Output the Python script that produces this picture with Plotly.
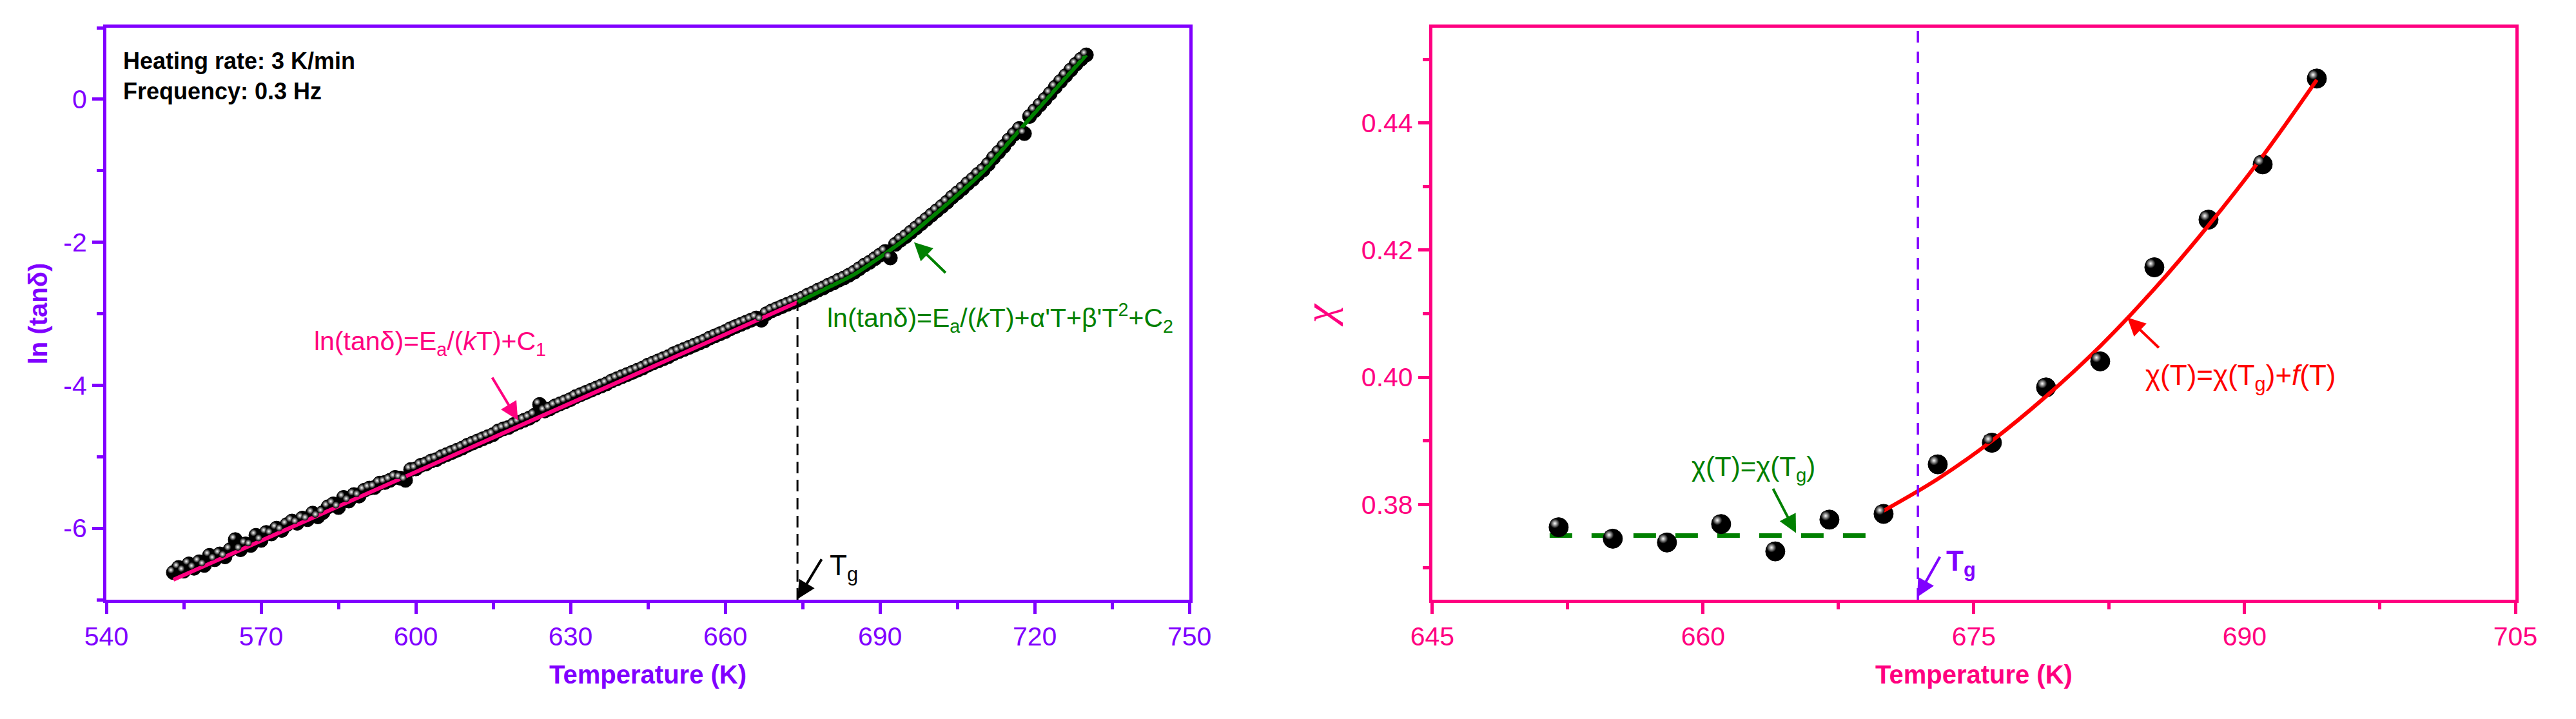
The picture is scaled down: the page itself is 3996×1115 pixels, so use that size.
import plotly.graph_objects as go

# ---------------- Left panel data ----------------
T_left = [
    553, 554, 555, 556, 557, 558, 559, 560, 561, 562,
    563, 564, 565, 566, 567, 568, 569, 570, 571, 572,
    573, 574, 575, 576, 577, 578, 579, 580, 581, 582,
    583, 584, 585, 586, 587, 588, 589, 590, 591, 592,
    593, 594, 595, 596, 597, 598, 599, 600, 601, 602,
    603, 604, 605, 606, 607, 608, 609, 610, 611, 612,
    613, 614, 615, 616, 617, 618, 619, 620, 621, 622,
    623, 624, 625, 626, 627, 628, 629, 630, 631, 632,
    633, 634, 635, 636, 637, 638, 639, 640, 641, 642,
    643, 644, 645, 646, 647, 648, 649, 650, 651, 652,
    653, 654, 655, 656, 657, 658, 659, 660, 661, 662,
    663, 664, 665, 666, 667, 668, 669, 670, 671, 672,
    673, 674, 675, 676, 677, 678, 679, 680, 681, 682,
    683, 684, 685, 686, 687, 688, 689, 690, 691, 692,
    693, 694, 695, 696, 697, 698, 699, 700, 701, 702,
    703, 704, 705, 706, 707, 708, 709, 710, 711, 712,
    713, 714, 715, 716, 717, 718, 719, 720, 721, 722,
    723, 724, 725, 726, 727, 728, 729, 730,
]
ln_tan = [
    -6.62, -6.55, -6.60, -6.50, -6.56, -6.47, -6.52, -6.38, -6.44, -6.36,
    -6.40, -6.30, -6.16, -6.30, -6.22, -6.24, -6.10, -6.17, -6.06, -6.08,
    -6.00, -6.03, -5.95, -5.90, -5.93, -5.86, -5.88, -5.79, -5.84, -5.78,
    -5.70, -5.66, -5.71, -5.57, -5.62, -5.53, -5.55, -5.47, -5.44, -5.43,
    -5.37, -5.36, -5.33, -5.29, -5.30, -5.33, -5.18, -5.17, -5.12, -5.10,
    -5.06, -5.04, -5.00, -4.97, -4.94, -4.91, -4.88, -4.84, -4.81, -4.78,
    -4.75, -4.72, -4.69, -4.64, -4.61, -4.59, -4.55, -4.52, -4.49, -4.46,
    -4.42, -4.27, -4.36, -4.33, -4.29, -4.26, -4.23, -4.20, -4.16, -4.13,
    -4.10, -4.07, -4.04, -4.01, -3.98, -3.94, -3.91, -3.88, -3.85, -3.82,
    -3.79, -3.76, -3.72, -3.69, -3.66, -3.63, -3.60, -3.56, -3.53, -3.50,
    -3.47, -3.44, -3.41, -3.38, -3.34, -3.31, -3.28, -3.25, -3.21, -3.18,
    -3.15, -3.12, -3.09, -3.06, -3.09, -3.00, -2.96, -2.93, -2.90, -2.87,
    -2.84, -2.81, -2.78, -2.74, -2.71, -2.67, -2.64, -2.60, -2.57, -2.53,
    -2.50, -2.46, -2.42, -2.37, -2.32, -2.28, -2.23, -2.18, -2.13, -2.22,
    -2.03, -1.97, -1.92, -1.86, -1.80, -1.74, -1.68, -1.62, -1.56, -1.50,
    -1.44, -1.37, -1.31, -1.25, -1.18, -1.12, -1.05, -0.99, -0.91, -0.82,
    -0.74, -0.66, -0.57, -0.49, -0.41, -0.48, -0.24, -0.16, -0.08, 0.00,
    0.08, 0.17, 0.25, 0.33, 0.41, 0.49, 0.56, 0.62,
]
T_fit_glass = [553, 674]
ln_fit_glass = [-6.72, -2.84]
T_fit_melt = [674, 680, 685, 690, 695, 700, 705, 710, 715, 720, 725, 730]
ln_fit_melt = [-2.84, -2.63, -2.45, -2.21, -1.95, -1.65, -1.34, -1.01, -0.60, -0.19, 0.22, 0.62]
Tg_left = 674

x_ticks_left = [540, 570, 600, 630, 660, 690, 720, 750]
x_minor_left = [555, 585, 615, 645, 675, 705, 735]
y_ticks_left = [0, -2, -4, -6]
y_ticklabels_left = ["0", "-2", "-4", "-6"]
y_minor_left = [1, -1, -3, -5, -7]

# ---------------- Right panel data ----------------
T_right = [652, 655, 658, 661, 664, 667, 670, 673, 676, 679, 682, 685, 688, 691, 694]
chi = [0.3764, 0.3746, 0.3740, 0.3769, 0.3726, 0.3776, 0.3785, 0.3863,
       0.3897, 0.3984, 0.4025, 0.4173, 0.4248, 0.4335, 0.4470]
T_fit_red = [670, 673, 676, 679, 682, 685, 688, 691, 694]
chi_fit_red = [0.3790, 0.3840, 0.3900, 0.3970, 0.4049, 0.4139, 0.4239, 0.4348, 0.4468]
T_flat = [651.5, 669.5]
chi_flat = [0.3751, 0.3751]
Tg_right = 671.9

x_ticks_right = [645, 660, 675, 690, 705]
x_minor_right = [652.5, 667.5, 682.5, 697.5]
y_ticks_right = [0.38, 0.40, 0.42, 0.44]
y_ticklabels_right = ["0.38", "0.40", "0.42", "0.44"]
y_minor_right = [0.37, 0.39, 0.41, 0.43, 0.45]

# ---------------- Styles ----------------
PURPLE = "#8000FF"
PINK = "#FF0080"
GREEN = "#008000"
RED = "#FF0000"
FONT = "Liberation Sans, Arial, sans-serif"

X_RANGE_L, Y_RANGE_L = [540, 750], [-7, 1]
X_RANGE_R, Y_RANGE_R = [645, 705], [0.365, 0.455]
# highlight offset (in axis units) so the sphere glint sits up-left of centre
HL_DX_L, HL_DY_L = 0.5, 0.036
HL_DX_R, HL_DY_R = 0.21, 0.0006

fig = go.Figure()


def spheres(x, y, size, xa, ya, hxa, hya):
    fig.add_trace(go.Scatter(
        x=x, y=y, mode="markers", xaxis=xa, yaxis=ya, hoverinfo="skip",
        marker=dict(size=size, color="#000000", line=dict(width=1, color="#000000")),
    ))
    # glint: drawn on hidden overlay axes whose ranges are nudged a few pixels
    fig.add_trace(go.Scatter(
        x=x, y=y, mode="markers", xaxis=hxa, yaxis=hya, hoverinfo="skip",
        marker=dict(size=size * 0.5, color="#000000", line=dict(width=0),
                    gradient=dict(type="radial", color="#FFFFFF")),
    ))


# Left panel
spheres(T_left, ln_tan, 22, "x", "y", "x3", "y3")
fig.add_trace(go.Scatter(x=T_fit_glass, y=ln_fit_glass, mode="lines",
                         line=dict(color=PINK, width=6), xaxis="x", yaxis="y"))
fig.add_trace(go.Scatter(x=T_fit_melt, y=ln_fit_melt, mode="lines",
                         line=dict(color=GREEN, width=6, shape="spline"),
                         xaxis="x", yaxis="y"))

# Right panel
fig.add_trace(go.Scatter(x=T_flat, y=chi_flat, mode="lines",
                         line=dict(color=GREEN, width=7, dash="35px,30px"),
                         xaxis="x2", yaxis="y2"))
spheres(T_right, chi, 30, "x2", "y2", "x4", "y4")
fig.add_trace(go.Scatter(x=T_fit_red, y=chi_fit_red, mode="lines",
                         line=dict(color=RED, width=6, shape="spline"),
                         xaxis="x2", yaxis="y2"))


def axis(color, rng, tickvals, ticktext, minor_vals, domain, anchor, title, title_font,
         standoff):
    return dict(
        domain=domain, anchor=anchor, range=rng,
        showgrid=False, zeroline=False,
        showline=True, linecolor=color, linewidth=5, mirror=True,
        ticks="outside", ticklen=17, tickwidth=5, tickcolor=color,
        tickmode="array", tickvals=tickvals, ticktext=ticktext,
        tickfont=dict(family=FONT, size=41, color=color),
        minor=dict(tickmode="array", tickvals=minor_vals, ticks="outside",
                   ticklen=10, tickwidth=5, tickcolor=color, showgrid=False),
        title=dict(text=title, standoff=standoff, font=title_font),
        automargin=False,
    )


def hidden(overlay, rng, anchor):
    return dict(overlaying=overlay, range=rng, visible=False, anchor=anchor,
                showgrid=False, zeroline=False)


bold_purple = dict(family=FONT, size=40, color=PURPLE, weight="bold")
bold_pink = dict(family=FONT, size=40, color=PINK, weight="bold")
chi_font = dict(family="Liberation Serif, DejaVu Serif, serif", size=66, color=PINK,
                style="italic")

fig.update_layout(
    width=3996, height=1115,
    margin=dict(l=157, r=102, t=35, b=193),
    paper_bgcolor="white", plot_bgcolor="white",
    showlegend=False,
    xaxis=axis(PURPLE, X_RANGE_L, x_ticks_left, [str(v) for v in x_ticks_left],
               x_minor_left, [0, 0.4496], "y", "Temperature (K)", bold_purple, 24),
    yaxis=axis(PURPLE, Y_RANGE_L, y_ticks_left, y_ticklabels_left, y_minor_left,
               [0, 1], "x", "ln (tanδ)", bold_purple, 14),
    xaxis2=axis(PINK, X_RANGE_R, x_ticks_right, [str(v) for v in x_ticks_right],
                x_minor_right, [0.5504, 1], "y2", "Temperature (K)", bold_pink, 24),
    yaxis2=axis(PINK, Y_RANGE_R, y_ticks_right, y_ticklabels_right, y_minor_right,
                [0, 1], "x2", "χ", chi_font, 22),
    xaxis3=hidden("x", [X_RANGE_L[0] + HL_DX_L, X_RANGE_L[1] + HL_DX_L], "y3"),
    yaxis3=hidden("y", [Y_RANGE_L[0] - HL_DY_L, Y_RANGE_L[1] - HL_DY_L], "x3"),
    xaxis4=hidden("x2", [X_RANGE_R[0] + HL_DX_R, X_RANGE_R[1] + HL_DX_R], "y4"),
    yaxis4=hidden("y2", [Y_RANGE_R[0] - HL_DY_R, Y_RANGE_R[1] - HL_DY_R], "x4"),
)

# dashed Tg lines
fig.add_shape(type="line", xref="x", yref="y", x0=Tg_left, x1=Tg_left, y0=-7, y1=-2.84,
              line=dict(color="black", width=3, dash="18px,10px"))
fig.add_shape(type="line", xref="x2", yref="y2", x0=Tg_right, x1=Tg_right, y0=0.365, y1=0.455,
              line=dict(color=PURPLE, width=3.5, dash="18px,14px"))

ann = []
ann.append(dict(xref="x", yref="y", x=543, y=0.32, xanchor="left", yanchor="middle",
                text="Heating rate: 3 K/min<br>Frequency: 0.3 Hz", align="left",
                showarrow=False, font=dict(family=FONT, size=36, color="black", weight="bold")))
ann.append(dict(xref="x", yref="y", x=602.7, y=-3.41, xanchor="center", yanchor="middle",
                text="ln(tanδ)=E<sub>a</sub>/(<i>k</i>T)+C<sub>1</sub>", showarrow=False,
                font=dict(family=FONT, size=41, color=PINK)))
ann.append(dict(xref="x", yref="y", x=713.3, y=-3.06, xanchor="center", yanchor="middle",
                text="ln(tanδ)=E<sub>a</sub>/(<i>k</i>T)+α'T+β'T<sup>2</sup>+C<sub>2</sub>",
                showarrow=False, font=dict(family=FONT, size=41, color=GREEN)))
ann.append(dict(xref="x", yref="y", x=680, y=-6.55, xanchor="left", yanchor="middle",
                text="T<sub>g</sub>", showarrow=False,
                font=dict(family=FONT, size=44, color="black")))
ann.append(dict(xref="x2", yref="y2", x=662.8, y=0.3856, xanchor="center", yanchor="middle",
                text="χ(T)=χ(T<sub>g</sub>)", showarrow=False,
                font=dict(family=FONT, size=42, color=GREEN)))
ann.append(dict(xref="x2", yref="y2", x=689.8, y=0.4000, xanchor="center", yanchor="middle",
                text="χ(T)=χ(T<sub>g</sub>)+<i>f</i>(T)", showarrow=False,
                font=dict(family=FONT, size=44, color=RED)))
ann.append(dict(xref="x2", yref="y2", x=673.4, y=0.3708, xanchor="left", yanchor="middle",
                text="T<sub>g</sub>", showarrow=False,
                font=dict(family=FONT, size=44, color=PURPLE, weight="bold")))


def arrow(xr, yr, x, y, ax, ay, color, width=4):
    return dict(xref=xr, yref=yr, axref=xr, ayref=yr, x=x, y=y, ax=ax, ay=ay,
                text="", showarrow=True, arrowhead=2, arrowsize=1.4,
                arrowwidth=width, arrowcolor=color)


ann.append(arrow("x", "y", 619.8, -4.49, 614.7, -3.88, PINK))
ann.append(arrow("x", "y", 696.6, -2.00, 702.9, -2.44, GREEN))
ann.append(arrow("x", "y", 674.0, -6.99, 678.8, -6.42, "black"))
ann.append(arrow("x2", "y2", 665.15, 0.3755, 663.85, 0.3826, GREEN))
ann.append(arrow("x2", "y2", 683.5, 0.4094, 685.3, 0.4045, RED))
ann.append(arrow("x2", "y2", 671.86, 0.3654, 673.15, 0.3719, PURPLE))
fig.update_layout(annotations=ann)

fig.write_html("out.html")
